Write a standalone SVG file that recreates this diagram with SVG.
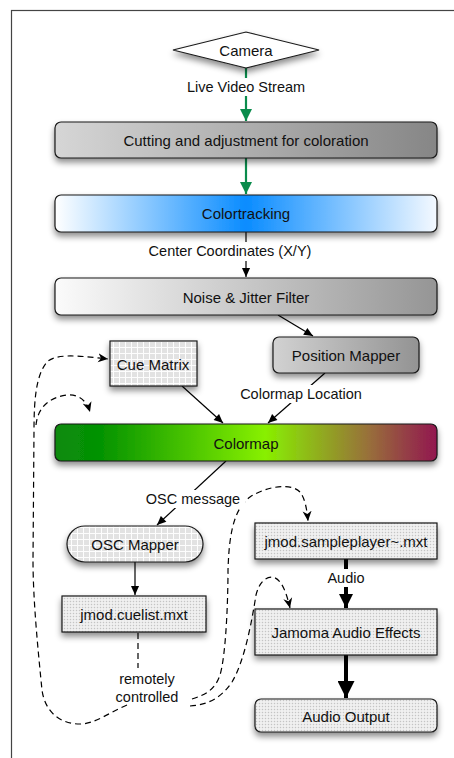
<svg xmlns="http://www.w3.org/2000/svg" width="454" height="758" viewBox="0 0 454 758">
<style>
  text { font-family: "Liberation Sans", Arial, sans-serif; fill: #111; text-anchor: middle; dominant-baseline: central; }
  .n { font-size: 15px; }
  .l { font-size: 14.5px; }
  .box { stroke: #1a1a1a; stroke-width: 1.2; filter: url(#sh); }
  .ln { fill: none; stroke: #000; stroke-width: 1.2; }
  .dash { fill: none; stroke: #000; stroke-width: 1.2; stroke-dasharray: 6 4; }
  .thick { fill: none; stroke: #000; stroke-width: 4; }
  .green { fill: none; stroke: #0a8c4c; stroke-width: 2.2; }
  .bg { fill: #fff; }
</style>
<defs>
  <filter id="sh" x="-10%" y="-30%" width="120%" height="170%">
    <feDropShadow dx="0" dy="4" stdDeviation="3" flood-color="#000" flood-opacity="0.45"/>
  </filter>
  <linearGradient id="gCut" x1="0" x2="1" y1="0" y2="0">
    <stop offset="0" stop-color="#d6d6d6"/><stop offset="1" stop-color="#868686"/>
  </linearGradient>
  <linearGradient id="gBlue" x1="0" x2="1" y1="0" y2="0">
    <stop offset="0" stop-color="#ffffff"/><stop offset="0.5" stop-color="#0a8cff"/><stop offset="1" stop-color="#f4f9ff"/>
  </linearGradient>
  <linearGradient id="gNoise" x1="0" x2="1" y1="0" y2="0">
    <stop offset="0" stop-color="#fbfbfb"/><stop offset="1" stop-color="#959595"/>
  </linearGradient>
  <linearGradient id="gPos" x1="0" x2="1" y1="0" y2="0">
    <stop offset="0" stop-color="#d2d2d2"/><stop offset="1" stop-color="#939393"/>
  </linearGradient>
  <linearGradient id="gMap" x1="0" x2="1" y1="0" y2="0">
    <stop offset="0" stop-color="#0a8a0a"/><stop offset="0.12" stop-color="#049304"/><stop offset="0.55" stop-color="#88f000"/><stop offset="0.82" stop-color="#98703a"/><stop offset="1" stop-color="#921650"/>
  </linearGradient>
  <pattern id="grid" width="6" height="6" patternUnits="userSpaceOnUse">
    <rect width="6" height="6" fill="#fdfdfd"/><rect width="5" height="5" fill="#e2e2e2"/>
  </pattern>
  <pattern id="dots" width="3" height="3" patternUnits="userSpaceOnUse">
    <rect width="3" height="3" fill="#f0f0f0"/><circle cx="1.5" cy="1.5" r="0.75" fill="#c4c4c4"/>
  </pattern>
  <marker id="ah" viewBox="0 0 10 10" refX="10" refY="5" markerWidth="10" markerHeight="9" orient="auto" markerUnits="userSpaceOnUse">
    <path d="M0,0.5 L10,5 L0,9.5 z" fill="#000"/>
  </marker>
  <marker id="ahd" viewBox="0 0 10 10" refX="10" refY="5" markerWidth="10" markerHeight="10" orient="auto" markerUnits="userSpaceOnUse">
    <path d="M0,0.5 L10,5 L0,9.5 L3,5 z" fill="#000"/>
  </marker>
  <marker id="ahg" viewBox="0 0 10 10" refX="10" refY="5" markerWidth="14" markerHeight="12" orient="auto" markerUnits="userSpaceOnUse">
    <path d="M0,0 L10,5 L0,10 z" fill="#0a8c4c"/>
  </marker>
  <marker id="aht1" viewBox="0 0 10 10" refX="10" refY="5" markerWidth="20" markerHeight="14" orient="auto" markerUnits="userSpaceOnUse">
    <path d="M0,0 L10,5 L0,10 z" fill="#000"/>
  </marker>
  <marker id="aht2" viewBox="0 0 10 10" refX="10" refY="5" markerWidth="27" markerHeight="17" orient="auto" markerUnits="userSpaceOnUse">
    <path d="M0,0 L10,5 L0,10 z" fill="#000"/>
  </marker>
</defs>

<rect x="11.5" y="10.5" width="460" height="760" fill="#fff" stroke="#444" stroke-width="1.2"/>

<g id="connectors">
  <line class="green" x1="246" y1="68" x2="246" y2="121" marker-end="url(#ahg)"/>
  <line class="green" x1="246" y1="158" x2="246" y2="194" marker-end="url(#ahg)"/>
  <line class="ln" x1="246" y1="232" x2="246" y2="277" marker-end="url(#ah)"/>
  <line class="ln" x1="278" y1="315" x2="313" y2="336" marker-end="url(#ah)"/>
  <line class="ln" x1="182" y1="386" x2="223" y2="423" marker-end="url(#ah)"/>
  <line class="ln" x1="325" y1="373" x2="268" y2="423" marker-end="url(#ah)"/>
  <line class="ln" x1="226" y1="461" x2="157" y2="525" marker-end="url(#ah)"/>
  <line class="ln" x1="135" y1="562" x2="135" y2="595" marker-end="url(#ah)"/>
  <line class="thick" x1="346" y1="559" x2="346" y2="608" marker-end="url(#aht1)"/>
  <line class="thick" x1="346" y1="655" x2="346" y2="698" marker-end="url(#aht2)"/>
  <line class="dash" x1="138" y1="633" x2="138" y2="668"/>
  <path class="dash" d="M127,705 C110,712 95,724 80,724 C60,724 45,712 42,690 C38,650 33,600 33,560 L34,430 C34,400 36,375 47,362 C55,354 75,355 108,359" marker-end="url(#ahd)"/>
  <path class="dash" d="M36,425 C38,405 52,397 67,395 C80,394 87,402 90,412" marker-end="url(#ahd)"/>
  <path class="dash" d="M192,699 C205,695 215,690 220,675 C226,655 228,600 228,570 C229,540 232,510 250,497 C265,487 290,482 300,492 C305,498 307,510 308,521" marker-end="url(#ahd)"/>
  <path class="dash" d="M190,706 C205,705 220,700 232,682 C245,660 252,620 256,595 C259,583 265,577 272,577 C282,578 287,595 290,608" marker-end="url(#ahd)"/>
  <rect class="bg" x="182" y="78" width="128" height="18"/>
  <text class="l" x="246" y="87">Live Video Stream</text>
  <rect class="bg" x="138" y="242" width="187" height="19"/>
  <text class="l" x="230" y="251">Center Coordinates (X/Y)</text>
  <rect class="bg" x="235" y="385" width="132" height="18"/>
  <text class="l" x="301" y="394">Colormap Location</text>
  <rect class="bg" x="141" y="490" width="104" height="18"/>
  <text class="l" x="193" y="499">OSC message</text>
  <rect class="bg" x="325" y="569" width="42" height="18"/>
  <text class="l" x="346" y="578">Audio</text>
  <text class="l" x="147" y="679">remotely</text>
  <text class="l" x="147" y="697">controlled</text>
</g>

<g id="camera">
  <polygon class="box" points="173,50 246,32 319,50 246,68" fill="#fff"/>
  <text class="n" x="246" y="50">Camera</text>
</g>
<g id="cutting">
  <rect class="box" x="55" y="122" width="382" height="36" rx="6" fill="url(#gCut)"/>
  <text class="n" x="246" y="140">Cutting and adjustment for coloration</text>
</g>
<g id="colortracking">
  <rect class="box" x="55" y="195" width="382" height="37" rx="6" fill="url(#gBlue)"/>
  <text class="n" x="246" y="213">Colortracking</text>
</g>
<g id="noise">
  <rect class="box" x="55" y="278" width="382" height="37" rx="6" fill="url(#gNoise)"/>
  <text class="n" x="246" y="297">Noise &amp; Jitter Filter</text>
</g>
<g id="position-mapper">
  <rect class="box" x="273" y="337" width="146" height="36" rx="6" fill="url(#gPos)"/>
  <text class="n" x="346" y="355">Position Mapper</text>
</g>
<g id="cue-matrix">
  <rect class="box" x="110" y="341" width="87" height="45" fill="url(#grid)"/>
  <text class="n" x="153" y="364">Cue Matrix</text>
</g>
<g id="colormap">
  <rect class="box" x="55" y="424" width="382" height="37" rx="6" fill="url(#gMap)"/>
  <text class="n" x="246" y="443">Colormap</text>
</g>
<g id="osc-mapper">
  <rect class="box" x="67" y="526" width="136" height="36" rx="18" fill="url(#grid)"/>
  <text class="n" x="135" y="544">OSC Mapper</text>
</g>
<g id="cuelist">
  <rect class="box" x="62" y="596" width="144" height="36" fill="url(#dots)"/>
  <text class="n" x="134" y="614">jmod.cuelist.mxt</text>
</g>
<g id="sampleplayer">
  <rect class="box" x="255" y="523" width="182" height="36" fill="url(#dots)"/>
  <text class="n" x="346" y="541">jmod.sampleplayer~.mxt</text>
</g>
<g id="jamoma">
  <rect class="box" x="255" y="609" width="182" height="46" fill="url(#dots)"/>
  <text class="n" x="346" y="632">Jamoma Audio Effects</text>
</g>
<g id="audio-output">
  <rect class="box" x="255" y="699" width="182" height="33" rx="6" fill="url(#dots)"/>
  <text class="n" x="346" y="716">Audio Output</text>
</g>
</svg>
